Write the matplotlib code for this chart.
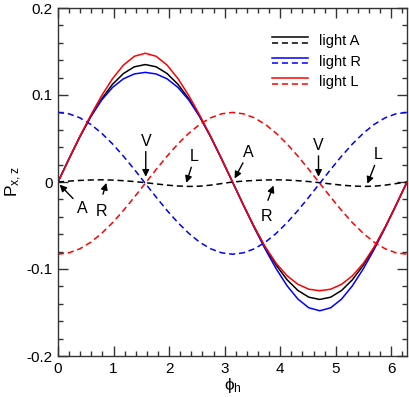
import numpy as np
import matplotlib
matplotlib.use("Agg")
import matplotlib.pyplot as plt
from matplotlib.lines import Line2D
from matplotlib.legend_handler import HandlerBase
from matplotlib.ticker import MultipleLocator, FuncFormatter

plt.rcParams['font.family'] = ['Liberation Sans', 'DejaVu Sans']
plt.rcParams['axes.unicode_minus'] = False
plt.rcParams['mathtext.fontset'] = 'custom'
plt.rcParams['mathtext.rm'] = 'Liberation Sans'
plt.rcParams['mathtext.it'] = 'Liberation Sans'

# sampling grid of phi_h (0 .. 2*pi, step pi/16)
phi = np.linspace(0, 2 * np.pi, 33)

# solid curves
A_solid = [0, 0.0263, 0.0517, 0.0750, 0.0955, 0.1123, 0.1247, 0.1324, 0.1350,
           0.1324, 0.1247, 0.1123, 0.0955, 0.0750, 0.0517, 0.0263, 0,
           -0.0263, -0.0517, -0.0750, -0.0955, -0.1123, -0.1247, -0.1324, -0.1350,
           -0.1324, -0.1247, -0.1123, -0.0955, -0.0750, -0.0517, -0.0263, 0]
R_solid = [0, 0.0267, 0.0522, 0.0751, 0.0941, 0.1087, 0.1186, 0.1242, 0.1260,
           0.1242, 0.1186, 0.1087, 0.0941, 0.0751, 0.0522, 0.0267, 0,
           -0.0267, -0.0527, -0.0772, -0.0996, -0.1192, -0.1346, -0.1446, -0.1480,
           -0.1446, -0.1346, -0.1192, -0.0996, -0.0772, -0.0527, -0.0267, 0]
L_solid = [0, 0.0265, 0.0523, 0.0767, 0.0992, 0.1188, 0.1344, 0.1445, 0.1480,
           0.1445, 0.1344, 0.1188, 0.0992, 0.0767, 0.0523, 0.0265, 0,
           -0.0265, -0.0518, -0.0745, -0.0934, -0.1078, -0.1176, -0.1232, -0.1250,
           -0.1232, -0.1176, -0.1078, -0.0934, -0.0745, -0.0518, -0.0265, 0]

# dashed curves
A_dash = [0, 0.0010, 0.0018, 0.0023, 0.0025, 0.0022, 0.0015, 0.0005, -0.0008,
          -0.0022, -0.0036, -0.0046, -0.0051, -0.0048, -0.0036, -0.0018, 0,
          0.0010, 0.0018, 0.0023, 0.0025, 0.0022, 0.0015, 0.0005, -0.0008,
          -0.0022, -0.0036, -0.0046, -0.0051, -0.0048, -0.0036, -0.0018, 0]
R_dash = [0.0800, 0.0784, 0.0738, 0.0663, 0.0561, 0.0438, 0.0297, 0.0144, -0.0015,
          -0.0174, -0.0327, -0.0468, -0.0591, -0.0693, -0.0768, -0.0814, -0.0830,
          -0.0814, -0.0768, -0.0693, -0.0591, -0.0468, -0.0327, -0.0174, -0.0015,
          0.0144, 0.0297, 0.0438, 0.0561, 0.0663, 0.0738, 0.0784, 0.0800]
L_dash = [-0.0830, -0.0814, -0.0768, -0.0693, -0.0591, -0.0468, -0.0327, -0.0174, -0.0015,
          0.0144, 0.0297, 0.0438, 0.0561, 0.0663, 0.0738, 0.0784, 0.0800,
          0.0784, 0.0738, 0.0663, 0.0561, 0.0438, 0.0297, 0.0144, -0.0015,
          -0.0174, -0.0327, -0.0468, -0.0591, -0.0693, -0.0768, -0.0814, -0.0830]

legend_labels = ['light A', 'light R', 'light L']
colors = ['black', '#0000ff', '#ff0000']

# annotations: (label, text position, arrow tail, arrow head)
annots = [
    ('A', (0.44, -0.030), (0.27, -0.019), (0.03, -0.003)),
    ('R', (0.79, -0.034), (0.81, -0.014), (0.87, -0.001)),
    ('V', (1.58, 0.047), (1.58, 0.035), (1.58, 0.006)),
    ('L', (2.46, 0.029), (2.40, 0.017), (2.31, -0.001)),
    ('A', (3.42, 0.034), (3.33, 0.022), (3.18, 0.004)),
    ('R', (3.76, -0.040), (3.78, -0.021), (3.88, -0.004)),
    ('V', (4.69, 0.042), (4.69, 0.030), (4.69, 0.006)),
    ('L', (5.77, 0.032), (5.70, 0.019), (5.57, -0.002)),
]

fig = plt.figure(figsize=(4.09, 3.97), dpi=100)
ax = fig.add_axes([58 / 409, 1 - 356 / 397, (407 - 58) / 409, (356 - 8) / 397])

lw = 1.1
dash = (0, (4.0, 2.5))
series = [(A_solid, A_dash), (R_solid, R_dash), (L_solid, L_dash)]
handles = []
for (s, d), c in zip(series, colors):
    h1, = ax.plot(phi, s, color=c, lw=lw, ls='-')
    h2, = ax.plot(phi, d, color=c, lw=lw, ls=dash)
    handles.append((h1, h2))

for lab, tpos, tail, head in annots:
    ax.annotate('', xy=head, xytext=tail,
                arrowprops=dict(arrowstyle='-|>', color='black', lw=1.0,
                                mutation_scale=10, shrinkA=0, shrinkB=0))
    ax.text(tpos[0], tpos[1], lab, fontsize=11.5, ha='center', va='center')


class StackHandler(HandlerBase):
    def create_artists(self, legend, orig_handle, xdescent, ydescent,
                       width, height, fontsize, trans):
        solid, dashed = orig_handle
        yc = 0.5 * height - ydescent
        y1 = yc + 2.0
        y2 = yc - 2.0
        a = Line2D([-xdescent, width - xdescent], [y1, y1], color=solid.get_color(),
                   lw=solid.get_linewidth(), ls='-', transform=trans)
        b = Line2D([-xdescent, width - xdescent], [y2, y2], color=dashed.get_color(),
                   lw=dashed.get_linewidth(), ls=dash, transform=trans)
        return [a, b]


leg = ax.legend(handles, legend_labels, handler_map={tuple: StackHandler()},
                frameon=False, fontsize=10.5, handlelength=2.5, handletextpad=0.75,
                labelspacing=0.45, borderpad=0, borderaxespad=0,
                loc='upper left', bbox_to_anchor=(272 / 409, 1 - 34 / 397),
                bbox_transform=fig.transFigure)

ax.set_xlim(0, 2 * np.pi)
ax.set_ylim(-0.2, 0.2)
ax.xaxis.set_major_locator(MultipleLocator(1))
ax.xaxis.set_minor_locator(MultipleLocator(0.2))
ax.yaxis.set_major_locator(MultipleLocator(0.1))
ax.yaxis.set_minor_locator(MultipleLocator(0.02))
ax.xaxis.set_major_formatter(FuncFormatter(lambda v, p: '%d' % round(v)))
ax.yaxis.set_major_formatter(FuncFormatter(lambda v, p: '0' if abs(v) < 1e-9 else '%.1f' % v))
ax.tick_params(which='both', direction='in', top=True, right=True, labelsize=11,
               color='#333333', width=1.0)
ax.tick_params(which='major', length=7, pad=4)
ax.tick_params(which='minor', length=3.5)
for sp in ax.spines.values():
    sp.set_linewidth(1.0)
    sp.set_color('#333333')

ax.set_xlabel(r'$\phi_{\rm h}$', fontsize=12.5, labelpad=0)
ax.set_ylabel(r'P$_{\rm x,z}$', fontsize=12.5, labelpad=2)

fig.savefig('out.png', dpi=100)
